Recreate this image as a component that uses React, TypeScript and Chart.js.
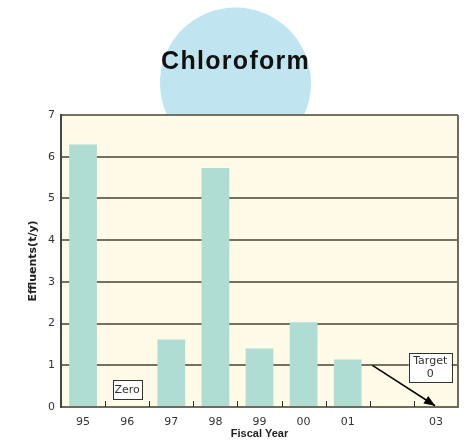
import React, { useEffect, useRef } from "react";
import { Chart, registerables } from "chart.js";

Chart.register(...registerables);

const categories = ["95", "96", "97", "98", "99", "00", "01", "", "03"];
const effluents = [6.29, 0, 1.62, 5.73, 1.4, 2.03, 1.14, null, null];
const yTicks = [0, 1, 2, 3, 4, 5, 6, 7];
const titleText = "Chloroform";
const yTitle = "Effluents(t/y)";
const xTitle = "Fiscal Year";
const zeroLabel = "Zero";
const targetLabel = ["Target", "0"];

const decorPlugin = {
  id: "decor",
  beforeDraw(chart: any) {
    const { ctx, chartArea } = chart;
    ctx.save();
    // circle behind title
    ctx.fillStyle = "#c0e5f0";
    ctx.beginPath();
    ctx.arc(235.5, 83, 75.5, 0, Math.PI * 2);
    ctx.fill();
    // plot background
    ctx.fillStyle = "#fffbe6";
    ctx.fillRect(chartArea.left, chartArea.top, chartArea.right - chartArea.left, chartArea.bottom - chartArea.top);
    // title
    ctx.fillStyle = "#111";
    ctx.font = "bold 25px 'Liberation Sans', Arial, sans-serif";
    (ctx as any).letterSpacing = "1.3px";
    ctx.textAlign = "center";
    ctx.textBaseline = "middle";
    ctx.fillText(titleText, 235.6, 62);
    (ctx as any).letterSpacing = "0px";
    ctx.restore();
  },
  afterDatasetsDraw(chart: any) {
    const { ctx, chartArea, scales } = chart;
    const x = scales.x;
    const y = scales.y;
    ctx.save();
    // right border
    ctx.strokeStyle = "#6e6a5e";
    ctx.lineWidth = 2;
    ctx.beginPath();
    ctx.moveTo(chartArea.right, chartArea.top);
    ctx.lineTo(chartArea.right, chartArea.bottom);
    ctx.stroke();
    // inward ticks at category boundaries
    ctx.strokeStyle = "#333";
    ctx.lineWidth = 1;
    for (let i = 1; i < categories.length; i++) {
      const px = Math.round(x.getPixelForValue(i - 0.5)) + 0.5;
      ctx.beginPath();
      ctx.moveTo(px, chartArea.bottom);
      ctx.lineTo(px, chartArea.bottom - 6);
      ctx.stroke();
    }
    // labels boxes
    ctx.font = "11px 'DejaVu Sans', sans-serif";
    ctx.textAlign = "center";
    ctx.textBaseline = "middle";
    const drawBox = (cx: number, cy: number, w: number, h: number, lines: string[]) => {
      ctx.fillStyle = "#ffffff";
      ctx.fillRect(cx - w / 2, cy - h / 2, w, h);
      ctx.strokeStyle = "#333";
      ctx.lineWidth = 1;
      ctx.strokeRect(Math.round(cx - w / 2) + 0.5, Math.round(cy - h / 2) + 0.5, w, h);
      ctx.fillStyle = "#333";
      const lh = 13;
      lines.forEach((t, i) => {
        ctx.fillText(t, cx, cy - ((lines.length - 1) * lh) / 2 + i * lh + 0.5);
      });
    };
    drawBox(x.getPixelForValue(1), y.getPixelForValue(0.42), 29, 19, [zeroLabel]);
    // arrow
    const x0 = x.getPixelForValue(6.56);
    const y0 = y.getPixelForValue(1);
    const x1 = x.getPixelForValue(7.98);
    const y1 = y.getPixelForValue(0.03);
    ctx.strokeStyle = "#000";
    ctx.lineWidth = 1.5;
    ctx.beginPath();
    ctx.moveTo(x0, y0);
    ctx.lineTo(x1, y1);
    ctx.stroke();
    const ang = Math.atan2(y1 - y0, x1 - x0);
    const hl = 11;
    const hw = 4.5;
    ctx.fillStyle = "#000";
    ctx.beginPath();
    ctx.moveTo(x1, y1);
    ctx.lineTo(x1 - hl * Math.cos(ang) + hw * Math.sin(ang), y1 - hl * Math.sin(ang) - hw * Math.cos(ang));
    ctx.lineTo(x1 - hl * Math.cos(ang) - hw * Math.sin(ang), y1 - hl * Math.sin(ang) + hw * Math.cos(ang));
    ctx.closePath();
    ctx.fill();
    drawBox(x.getPixelForValue(7.87), y.getPixelForValue(0.95), 43, 29, targetLabel);
    ctx.restore();
  },
};

export default function App() {
  const ref = useRef<HTMLCanvasElement | null>(null);
  useEffect(() => {
    if (!ref.current) return;
    const chart = new Chart(ref.current, {
      type: "bar",
      data: {
        labels: categories,
        datasets: [
          {
            data: effluents as any,
            backgroundColor: "#b0ddd3",
            borderWidth: 0,
            categoryPercentage: 1,
            barPercentage: 0.63,
          },
        ],
      },
      options: {
        responsive: false,
        animation: false,
        events: [],
        layout: { padding: { left: 0, right: 8, top: 115, bottom: 0 } },
        plugins: { legend: { display: false }, tooltip: { enabled: false }, title: { display: false } },
        scales: {
          x: {
            offset: true,
            grid: { display: false, drawTicks: false },
            border: { display: true, color: "#6e6a5e", width: 2 },
            ticks: {
              color: "#333",
              font: { size: 11, family: "'DejaVu Sans', sans-serif" },
              padding: 9,
              maxRotation: 0,
              autoSkip: false,
            },
            title: {
              display: true,
              text: xTitle,
              color: "#222",
              font: { size: 11, weight: "bold", family: "'Liberation Sans', Arial, sans-serif" },
              padding: { top: 0, bottom: 3 },
            },
            afterFit(scale: any) {
              scale.height = 37;
            },
          },
          y: {
            min: 0,
            max: 7,
            afterBuildTicks(scale: any) {
              scale.ticks = yTicks.map((v) => ({ value: v }));
            },
            grid: { color: "#75705f", lineWidth: 2, drawTicks: false },
            border: { display: true, color: "#444", width: 2 },
            ticks: {
              color: "#333",
              font: { size: 11, family: "'DejaVu Sans', sans-serif" },
              padding: 6,
            },
            title: {
              display: true,
              text: yTitle,
              color: "#222",
              font: { size: 11, weight: "bold", family: "'DejaVu Sans', sans-serif" },
              padding: { top: 27, bottom: 0 },
            },
            afterFit(scale: any) {
              scale.width = 61;
            },
          },
        },
      },
      plugins: [decorPlugin],
    });
    return () => chart.destroy();
  }, []);
  return (
    <div style={{ position: "fixed", left: 0, top: 0, width: 466, height: 444, background: "#fff" }}>
      <canvas ref={ref} width={466} height={444} style={{ width: 466, height: 444 }} />
    </div>
  );
}
